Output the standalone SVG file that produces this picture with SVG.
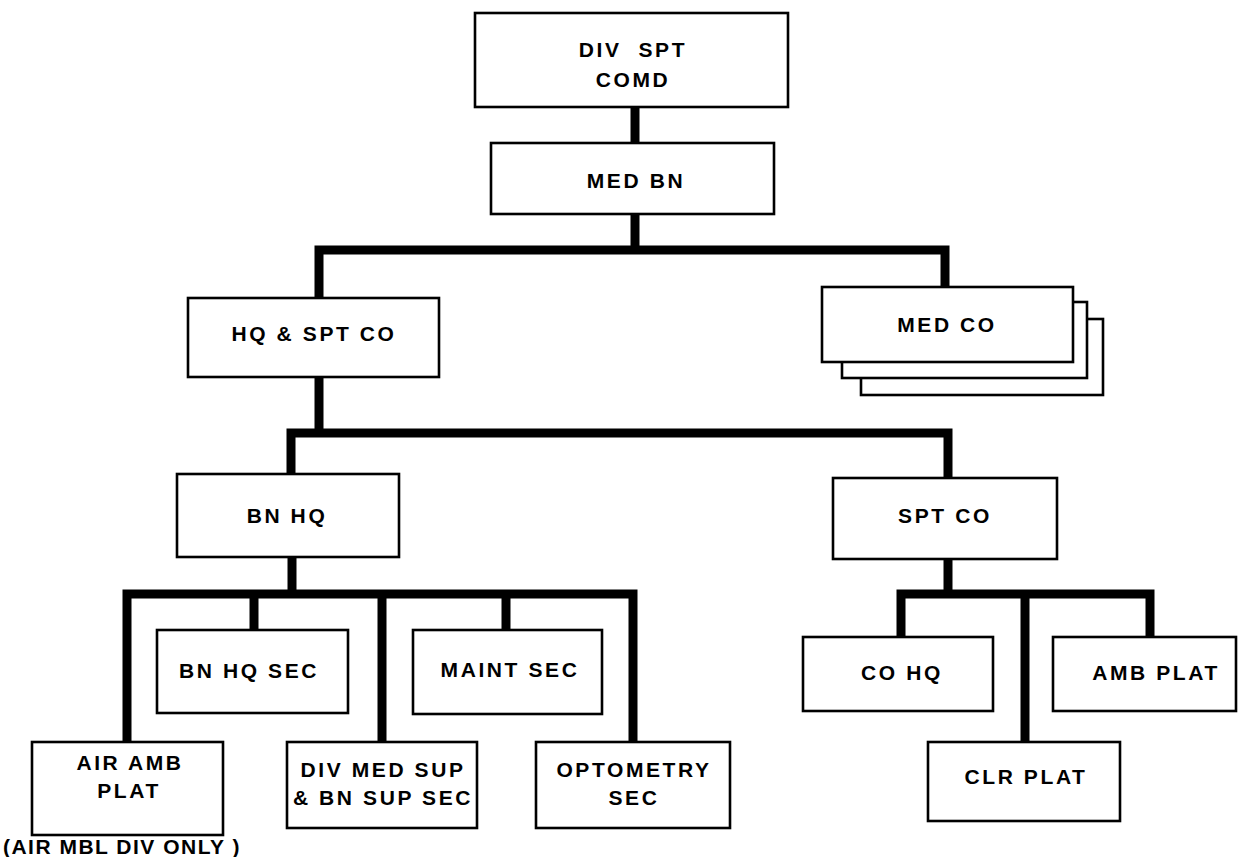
<svg xmlns="http://www.w3.org/2000/svg" width="1238" height="857" viewBox="0 0 1238 857">
<style>
.box{fill:#fff;stroke:#000;stroke-width:2.6}
.t{font-family:"Liberation Sans",Arial,sans-serif;font-weight:bold;font-size:21px;letter-spacing:2.6px;text-anchor:middle;fill:#000}
.c{fill:none;stroke:#000;stroke-width:9;stroke-linejoin:miter;stroke-linecap:butt}
</style>
<rect width="1238" height="857" fill="#fff"/>
<g id="connectors">
<path class="c" d="M635,107 V143"/>
<path class="c" d="M635,214 V250"/>
<path class="c" d="M319,298 V250 H945 V287"/>
<path class="c" d="M319,377 V433"/>
<path class="c" d="M291,474 V433 H948 V478"/>
<path class="c" d="M292,557 V594"/>
<path class="c" d="M127,742 V594 H633 V742"/>
<path class="c" d="M254,594 V630"/>
<path class="c" d="M382,594 V742"/>
<path class="c" d="M506,594 V630"/>
<path class="c" d="M948,559 V594"/>
<path class="c" d="M901,637 V594 H1150 V637"/>
<path class="c" d="M1025,594 V742"/>
</g>
<g id="div-spt-comd">
<rect class="box" x="475" y="13" width="313" height="94"/>
<text class="t" x="633" y="57" style="white-space:pre">DIV  SPT</text>
<text class="t" x="633" y="87">COMD</text>
</g>
<g id="med-bn">
<rect class="box" x="491" y="143" width="283" height="71"/>
<text class="t" x="636" y="188">MED BN</text>
</g>
<g id="hq-spt-co">
<rect class="box" x="188" y="298" width="251" height="79"/>
<text class="t" x="314" y="341">HQ &amp; SPT CO</text>
</g>
<g id="med-co">
<rect class="box" x="861" y="319" width="242" height="76"/>
<rect class="box" x="842" y="302" width="245" height="76"/>
<rect class="box" x="822" y="287" width="251" height="75"/>
<text class="t" x="947" y="332">MED CO</text>
</g>
<g id="bn-hq">
<rect class="box" x="177" y="474" width="222" height="83"/>
<text class="t" x="287" y="523">BN HQ</text>
</g>
<g id="spt-co">
<rect class="box" x="833" y="478" width="224" height="81"/>
<text class="t" x="945" y="523">SPT CO</text>
</g>
<g id="bn-hq-sec">
<rect class="box" x="157" y="630" width="191" height="83"/>
<text class="t" x="249" y="678">BN HQ SEC</text>
</g>
<g id="maint-sec">
<rect class="box" x="413" y="630" width="189" height="84"/>
<text class="t" x="510" y="677">MAINT SEC</text>
</g>
<g id="air-amb-plat">
<rect class="box" x="32" y="742" width="191" height="93"/>
<text class="t" x="130" y="770">AIR AMB</text>
<text class="t" x="129" y="798">PLAT</text>
</g>
<g id="air-mbl-note">
<text class="t" x="122" y="854" style="letter-spacing:1.5px">(AIR MBL DIV ONLY )</text>
</g>
<g id="div-med-sup">
<rect class="box" x="287" y="742" width="190" height="86"/>
<text class="t" x="383" y="777">DIV MED SUP</text>
<text class="t" x="383" y="805">&amp; BN SUP SEC</text>
</g>
<g id="optometry-sec">
<rect class="box" x="536" y="742" width="194" height="86"/>
<text class="t" x="634" y="777">OPTOMETRY</text>
<text class="t" x="634" y="805">SEC</text>
</g>
<g id="co-hq">
<rect class="box" x="803" y="637" width="190" height="74"/>
<text class="t" x="902" y="680">CO HQ</text>
</g>
<g id="amb-plat">
<rect class="box" x="1053" y="637" width="183" height="74"/>
<text class="t" x="1156" y="680">AMB PLAT</text>
</g>
<g id="clr-plat">
<rect class="box" x="928" y="742" width="192" height="79"/>
<text class="t" x="1026" y="784">CLR PLAT</text>
</g>
</svg>
